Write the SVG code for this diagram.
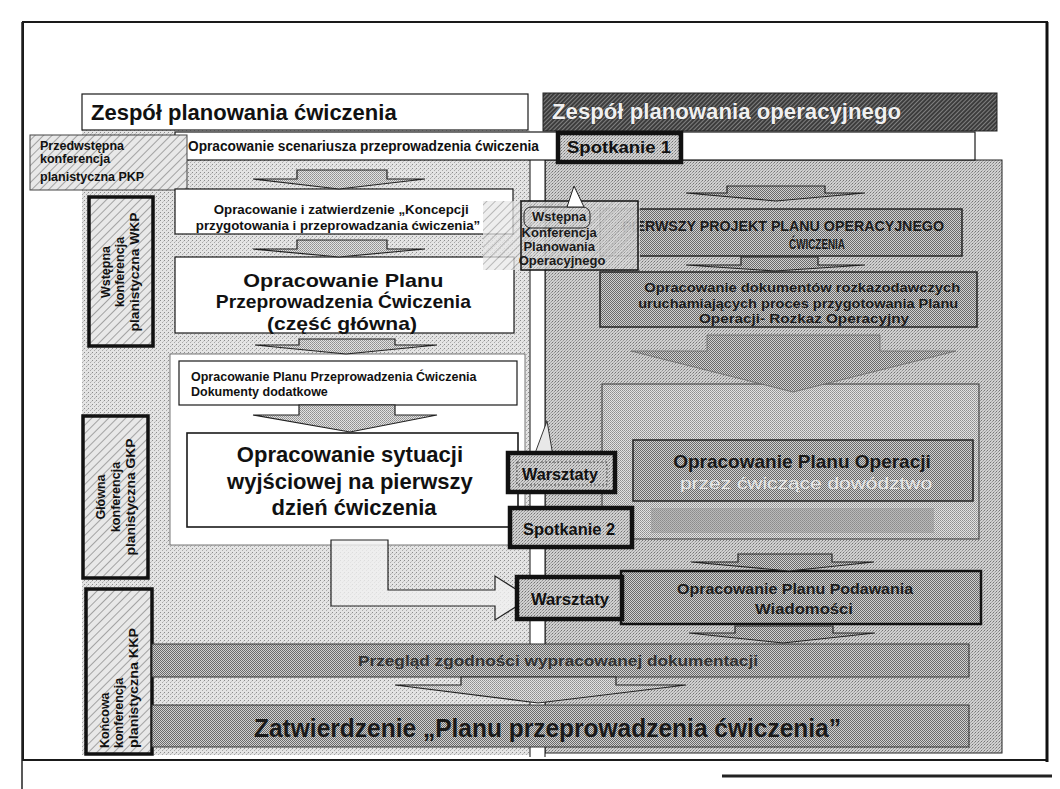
<svg xmlns="http://www.w3.org/2000/svg" width="1060" height="789" viewBox="0 0 1060 789">
<defs>
<pattern id="stipL" width="4" height="4" patternUnits="userSpaceOnUse">
<rect width="4" height="4" fill="#e4e4e4"/><rect width="1" height="1" fill="#8c8c8c"/><rect x="2" y="2" width="1" height="1" fill="#a8a8a8"/><rect x="3" y="1" width="1" height="1" fill="#c4c4c4"/>
</pattern>
<pattern id="stipR" width="3" height="3" patternUnits="userSpaceOnUse">
<rect width="3" height="3" fill="#d0d0d0"/><rect width="1" height="1" fill="#747474"/><rect x="2" y="1" width="1" height="1" fill="#959595"/><rect x="1" y="2" width="1" height="1" fill="#aaaaaa"/>
</pattern>
<pattern id="chk" width="2" height="2" patternUnits="userSpaceOnUse">
<rect width="2" height="2" fill="#d0d0d0"/><rect width="1" height="1" fill="#6a6a6a"/><rect x="1" y="1" width="1" height="1" fill="#6a6a6a"/>
</pattern>
<pattern id="chkL" width="2" height="2" patternUnits="userSpaceOnUse">
<rect width="2" height="2" fill="#e2e2e2"/><rect width="1" height="1" fill="#8e8e8e"/><rect x="1" y="1" width="1" height="1" fill="#9e9e9e"/>
</pattern>
<pattern id="hatch" width="6" height="6" patternUnits="userSpaceOnUse" patternTransform="rotate(45)">
<rect width="6" height="6" fill="#e8e8e8"/><rect width="1" height="6" fill="#a2a2a2"/>
</pattern>
<pattern id="dark" width="3" height="3" patternUnits="userSpaceOnUse" patternTransform="rotate(45)">
<rect width="3" height="3" fill="#3c3c3c"/><rect width="1" height="3" fill="#808080"/>
</pattern>
<style>
.f{font-family:"Liberation Sans",Arial,Helvetica,sans-serif;font-weight:bold;fill:#111}
.c{text-anchor:middle}
.wb{fill:#fff;stroke:#1a1a1a;stroke-width:1.2}
.side{fill:url(#hatch);stroke:#111;stroke-width:3.5}
.meet{fill:url(#stipR);stroke:#111;stroke-width:4.5}
.rbox{fill:url(#chk);stroke:#222;stroke-width:1.5}
.la{fill:url(#chkL);stroke:#222;stroke-width:1.2}
.ra{fill:url(#chk);stroke:#222;stroke-width:1.2}
.ln{fill:none;stroke:#111;stroke-width:1}
</style>
</defs>

<rect width="1060" height="789" fill="#fff"/>

<g id="frame">
<rect x="23" y="22" width="1024" height="738" fill="none" stroke="#1a1a1a" stroke-width="2"/>
<line x1="22" y1="22" x2="22" y2="789" stroke="#222" stroke-width="1.5"/>
<line x1="1047" y1="22" x2="1047" y2="762" stroke="#111" stroke-width="3"/>
<line x1="722" y1="776" x2="1052" y2="776" stroke="#222" stroke-width="3"/>
</g>

<g id="panels">
<rect x="82" y="130" width="448" height="625" fill="url(#stipL)"/>
<rect x="545" y="160" width="457" height="593" fill="url(#stipR)" stroke="#222" stroke-width="1"/>
<rect x="530" y="160" width="15" height="597" fill="#fff"/>
<line class="ln" x1="530" y1="160" x2="530" y2="757"/>
<line class="ln" x1="545" y1="160" x2="545" y2="757"/>
</g>

<g id="title-left">
<rect class="wb" x="82" y="94" width="446" height="36"/>
<text class="f" x="91" y="120" font-size="22">Zespół planowania ćwiczenia</text>
</g>

<g id="title-right">
<rect x="543" y="93" width="454" height="38" fill="url(#dark)" stroke="#222" stroke-width="1"/>
<text class="f" x="552" y="119" font-size="22" textLength="349" lengthAdjust="spacingAndGlyphs" style="fill:#f0f0f0;stroke:#222;stroke-width:0.7;paint-order:stroke">Zespół planowania operacyjnego</text>
</g>

<g id="scenario">
<rect class="wb" x="175" y="132" width="800" height="28"/>
<text class="f" x="188" y="151" font-size="14" textLength="351" lengthAdjust="spacingAndGlyphs">Opracowanie scenariusza przeprowadzenia ćwiczenia</text>
</g>

<g id="pkp">
<rect x="30" y="135" width="157" height="55" fill="url(#hatch)" stroke="#444" stroke-width="1"/>
<text class="f" font-size="12.5">
<tspan x="40" y="150">Przedwstępna</tspan>
<tspan x="40" y="163">konferencja</tspan>
<tspan x="40" y="181">planistyczna PKP</tspan>
</text>
</g>

<g id="spotkanie1">
<rect class="meet" x="558" y="133" width="123" height="29"/>
<text class="f c" x="619" y="153" font-size="16" textLength="104" lengthAdjust="spacingAndGlyphs">Spotkanie 1</text>
</g>

<g id="koncepcja">
<rect class="wb" x="175" y="189" width="338" height="45"/>
<text class="f c" font-size="13.3">
<tspan x="343" y="214">Opracowanie i zatwierdzenie „Koncepcji</tspan>
<tspan x="338" y="230">przygotowania i przeprowadzania ćwiczenia”</tspan>
</text>
</g>

<g id="plan-glowny">
<rect class="wb" x="175" y="257" width="339" height="76"/>
<text class="f c" font-size="19">
<tspan x="346" y="287" textLength="200" lengthAdjust="spacingAndGlyphs">Opracowanie Planu</tspan>
<tspan x="346" y="308" textLength="255" lengthAdjust="spacingAndGlyphs">Przeprowadzenia Ćwiczenia</tspan>
<tspan x="342" y="330" textLength="150" lengthAdjust="spacingAndGlyphs">(część główna)</tspan>
</text>
</g>

<g id="wkp">
<rect class="side" x="89" y="197" width="64" height="149"/>
<text class="f c" font-size="12.5" transform="translate(110,272) rotate(-90)">Wstępna</text>
<text class="f c" font-size="12.5" transform="translate(124,272) rotate(-90)">konferencja</text>
<text class="f c" font-size="12.5" transform="translate(139,272) rotate(-90)" textLength="119" lengthAdjust="spacingAndGlyphs">planistyczna WKP</text>
</g>

<g id="dodatkowe-panel">
<rect x="170" y="354" width="355" height="191" fill="#fff" stroke="#555" stroke-width="0.8"/>
</g>

<g id="dodatkowe">
<rect class="wb" x="179" y="361" width="338" height="44"/>
<text class="f" font-size="12.5">
<tspan x="191" y="381">Opracowanie Planu Przeprowadzenia Ćwiczenia</tspan>
<tspan x="191" y="396">Dokumenty dodatkowe</tspan>
</text>
</g>

<g id="sytuacja">
<rect class="wb" x="187" y="433" width="331" height="94" style="stroke-width:1.6"/>
<text class="f c" font-size="22">
<tspan x="353" y="462">Opracowanie sytuacji</tspan>
<tspan x="353" y="489">wyjściowej na pierwszy</tspan>
<tspan x="354" y="515">dzień ćwiczenia</tspan>
</text>
</g>

<g id="gkp">
<rect class="side" x="83" y="416" width="65" height="162"/>
<text class="f c" font-size="12.5" transform="translate(105,497) rotate(-90)">Główna</text>
<text class="f c" font-size="12.5" transform="translate(120,497) rotate(-90)">konferencja</text>
<text class="f c" font-size="12.5" transform="translate(135,497) rotate(-90)" textLength="117" lengthAdjust="spacingAndGlyphs">planistyczna GKP</text>
</g>

<g id="kkp">
<rect class="side" x="86" y="589" width="66" height="165"/>
<text class="f" font-size="12.5" transform="translate(109,748) rotate(-90)">Końcowa</text>
<text class="f" font-size="12.5" transform="translate(123,748) rotate(-90)">konferencja</text>
<text class="f" font-size="12.5" transform="translate(138,748) rotate(-90)" textLength="120" lengthAdjust="spacingAndGlyphs">planistyczna KKP</text>
</g>

<g id="pierwszy">
<rect class="rbox" x="600" y="209" width="362" height="47"/>
<text class="f" font-size="14" style="fill:#1c1c1c">
<tspan x="622" y="231" textLength="322" lengthAdjust="spacingAndGlyphs">PIERWSZY PROJEKT PLANU OPERACYJNEGO</tspan>
<tspan x="789" y="249" textLength="56" lengthAdjust="spacingAndGlyphs">ĆWICZENIA</tspan>
</text>
</g>

<g id="dokumenty">
<rect class="rbox" x="600" y="272" width="377" height="55"/>
<text class="f c" font-size="13" style="fill:#1c1c1c">
<tspan x="804" y="292" textLength="316" lengthAdjust="spacingAndGlyphs">Opracowanie dokumentów rozkazodawczych</tspan>
<tspan x="800" y="308" textLength="320" lengthAdjust="spacingAndGlyphs">uruchamiających proces przygotowania Planu</tspan>
<tspan x="804" y="323" textLength="210" lengthAdjust="spacingAndGlyphs">Operacji- Rozkaz Operacyjny</tspan>
</text>
</g>

<g id="plan-operacji">
<rect x="602" y="384" width="377" height="155" fill="url(#chkL)" stroke="#333" stroke-width="1"/>
<rect x="651" y="508" width="283" height="25" fill="#8a8a8a" opacity="0.45"/>
<rect x="633" y="440" width="340" height="61" fill="url(#chk)" stroke="#222" stroke-width="1.5"/>
<text class="f c" x="802" y="468" font-size="19" style="fill:#1a1a1a">Opracowanie Planu Operacji</text>
<text class="c" x="806" y="489" font-size="17" textLength="252" lengthAdjust="spacingAndGlyphs" style="font-family:'Liberation Sans',Arial,sans-serif;fill:#e6e6e6">przez ćwiczące dowództwo</text>
</g>

<g id="podawanie">
<rect x="621" y="571" width="360" height="53" fill="url(#chk)" stroke="#111" stroke-width="2.5"/>
<text class="f c" font-size="14" style="fill:#1c1c1c">
<tspan x="797" y="594" textLength="236" lengthAdjust="spacingAndGlyphs">Opracowanie Planu Podawania</tspan>
<tspan x="804" y="614" textLength="98" lengthAdjust="spacingAndGlyphs">Wiadomości</tspan>
</text>
</g>

<g id="przeglad">
<rect x="152" y="644" width="817" height="33" fill="url(#chk)" stroke="#333" stroke-width="1"/>
<text class="f" x="358" y="666" font-size="15" textLength="400" lengthAdjust="spacingAndGlyphs" style="fill:#333">Przegląd zgodności wypracowanej dokumentacji</text>
</g>

<g id="zatwierdzenie">
<rect x="152" y="705" width="817" height="42" fill="url(#chk)" stroke="#333" stroke-width="1"/>
<text class="f" x="254" y="737" font-size="26" textLength="587" lengthAdjust="spacingAndGlyphs" style="fill:#1a1a1a">Zatwierdzenie „Planu przeprowadzenia ćwiczenia”</text>
</g>

<g id="connectors">
<polygon class="la" points="297,170 387,170 387,179 425,179 339,189 253,179 297,179"/>
<polygon class="la" points="297,240 387,240 387,249 425,249 339,257 253,249 297,249"/>
<polygon class="la" points="299,339 395,339 395,345 437,345 346,354 255,345 299,345"/>
<polygon class="la" points="299,405 395,405 395,415 437,415 350,432 253,415 299,415"/>
<polygon class="ra" points="727,186 825,186 825,193 865,193 776,201 686,193 727,193"/>
<polygon class="ra" points="741,257 818,257 818,265 865,265 775,271 686,265 741,265"/>
<polygon points="707,335 880,335 880,351 956,351 793,392 631,351 707,351" fill="url(#chk)" stroke="#666" stroke-width="0.8"/>
<polygon class="ra" points="738,554 832,554 832,562 874,562 789,571 691,562 738,562"/>
<polygon class="ra" points="735,626 833,626 833,633 875,633 783,643 689,633 735,633"/>
<polygon class="la" points="461,677 616,677 616,685 686,685 538,703 395,685 461,685"/>
<polygon points="331,540 388,540 388,590 495,590 495,576 530,598 495,620 495,606 331,606" fill="#f0f0f0" fill-opacity="0.8" stroke="#222" stroke-width="1.2"/>
<polygon points="534,456 547,421 553,456" fill="#e8e8e8" stroke="#222" stroke-width="0.9"/>
</g>

<g id="wstepna-konferencja">
<rect x="483" y="201" width="157" height="69" fill="url(#hatch)" fill-opacity="0.75"/>
<rect x="521" y="201" width="117" height="69" fill="url(#stipR)" fill-opacity="0.55" stroke="#111" stroke-width="1.5"/>
<rect x="524" y="207" width="66" height="21" rx="7" fill="none" stroke="#222" stroke-width="1"/>
<polygon points="567,207 574,186 584,207" fill="#fff" stroke="#222" stroke-width="1"/>
<text class="f c" font-size="13" style="fill:#1a1a1a">
<tspan x="561" y="221">Wstępna</tspan>
<tspan x="561" y="237">Konferencja</tspan>
<tspan x="561" y="251">Planowania</tspan>
<tspan x="562" y="265">Operacyjnego</tspan>
</text>
</g>

<g id="warsztaty1">
<rect class="meet" x="508" y="453" width="107" height="39"/>
<rect x="517" y="462" width="90" height="23" fill="none" stroke="#333" stroke-width="0.8" stroke-dasharray="2,2"/>
<text class="f c" x="560" y="480" font-size="16" textLength="76" lengthAdjust="spacingAndGlyphs">Warsztaty</text>
</g>

<g id="spotkanie2">
<rect class="meet" x="510" y="508" width="122" height="39"/>
<text class="f c" x="569" y="535" font-size="16" textLength="92" lengthAdjust="spacingAndGlyphs">Spotkanie 2</text>
</g>

<g id="warsztaty2">
<rect class="meet" x="517" y="577" width="105" height="42"/>
<text class="f c" x="570" y="605" font-size="16" textLength="78" lengthAdjust="spacingAndGlyphs">Warsztaty</text>
</g>
</svg>
